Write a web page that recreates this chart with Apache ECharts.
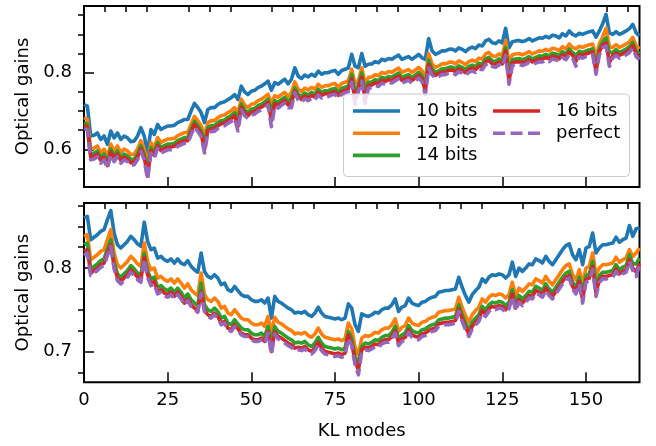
<!DOCTYPE html>
<html>
<head>
<meta charset="utf-8">
<script src="https://cdn.jsdelivr.net/npm/echarts/dist/echarts.min.js"></script>
<style>
html, body { margin: 0; padding: 0; background: #fff; }
#main { width: 656px; height: 446px; }
</style>
</head>
<body>
<div id="main"></div>
<script>
// KL mode index 0..166
var klModes = [];
for (var i = 0; i <= 166; i++) klModes.push(i);

// top panel
var top10 = [0.717,0.713,0.635,0.637,0.643,0.626,0.635,0.613,0.648,0.630,
	0.643,0.626,0.635,0.630,0.620,0.622,0.635,0.657,0.635,0.591,
	0.652,0.639,0.665,0.652,0.657,0.661,0.661,0.663,0.670,0.674,
	0.678,0.678,0.700,0.720,0.709,0.696,0.670,0.704,0.709,0.709,
	0.717,0.722,0.724,0.730,0.735,0.743,0.730,0.765,0.750,0.743,
	0.752,0.754,0.761,0.765,0.771,0.778,0.754,0.774,0.770,0.777,
	0.783,0.771,0.783,0.813,0.791,0.785,0.794,0.789,0.796,0.791,
	0.804,0.796,0.800,0.800,0.804,0.806,0.796,0.806,0.809,0.813,
	0.848,0.817,0.813,0.850,0.817,0.822,0.823,0.829,0.826,0.835,
	0.832,0.837,0.835,0.841,0.846,0.835,0.839,0.842,0.835,0.841,
	0.848,0.839,0.835,0.889,0.857,0.848,0.852,0.857,0.857,0.861,
	0.862,0.857,0.865,0.861,0.855,0.863,0.867,0.863,0.872,0.870,
	0.883,0.887,0.878,0.876,0.883,0.878,0.916,0.865,0.881,0.883,
	0.884,0.881,0.884,0.889,0.883,0.887,0.891,0.890,0.895,0.891,
	0.898,0.896,0.891,0.902,0.896,0.909,0.900,0.896,0.903,0.900,
	0.904,0.907,0.909,0.893,0.909,0.928,0.952,0.904,0.900,0.907,
	0.900,0.904,0.909,0.915,0.926,0.904,0.896];
var top12 = [0.683,0.679,0.601,0.603,0.609,0.592,0.601,0.579,0.614,0.596,
	0.609,0.592,0.601,0.596,0.586,0.588,0.601,0.623,0.601,0.560,
	0.618,0.605,0.631,0.618,0.623,0.627,0.627,0.629,0.636,0.640,
	0.644,0.644,0.666,0.686,0.675,0.662,0.636,0.670,0.675,0.675,
	0.683,0.688,0.690,0.696,0.701,0.709,0.696,0.731,0.716,0.709,
	0.718,0.720,0.727,0.731,0.737,0.744,0.720,0.740,0.736,0.743,
	0.749,0.737,0.749,0.776,0.757,0.751,0.760,0.755,0.762,0.757,
	0.770,0.762,0.766,0.766,0.770,0.772,0.762,0.772,0.775,0.779,
	0.809,0.770,0.779,0.813,0.772,0.788,0.789,0.795,0.792,0.801,
	0.798,0.803,0.801,0.807,0.812,0.801,0.805,0.808,0.801,0.807,
	0.814,0.805,0.785,0.850,0.823,0.814,0.818,0.823,0.823,0.827,
	0.828,0.823,0.831,0.827,0.821,0.829,0.833,0.829,0.838,0.836,
	0.849,0.853,0.844,0.842,0.849,0.844,0.884,0.826,0.847,0.849,
	0.850,0.847,0.850,0.855,0.849,0.853,0.857,0.856,0.861,0.857,
	0.864,0.862,0.857,0.868,0.862,0.875,0.866,0.862,0.869,0.866,
	0.870,0.873,0.875,0.839,0.875,0.894,0.916,0.868,0.866,0.873,
	0.866,0.870,0.875,0.881,0.892,0.870,0.862];
var top14 = [0.670,0.666,0.588,0.590,0.596,0.579,0.588,0.566,0.601,0.583,
	0.596,0.579,0.588,0.583,0.573,0.575,0.588,0.610,0.588,0.543,
	0.605,0.592,0.618,0.605,0.610,0.614,0.614,0.616,0.623,0.627,
	0.631,0.631,0.653,0.673,0.662,0.649,0.617,0.657,0.662,0.662,
	0.670,0.675,0.677,0.683,0.688,0.696,0.680,0.718,0.703,0.696,
	0.705,0.707,0.714,0.718,0.724,0.731,0.700,0.727,0.723,0.730,
	0.736,0.724,0.734,0.760,0.744,0.738,0.747,0.742,0.749,0.744,
	0.757,0.749,0.753,0.753,0.757,0.759,0.749,0.759,0.762,0.766,
	0.796,0.750,0.766,0.800,0.752,0.775,0.776,0.782,0.779,0.788,
	0.785,0.790,0.788,0.794,0.799,0.788,0.792,0.795,0.788,0.794,
	0.801,0.792,0.765,0.833,0.810,0.801,0.805,0.810,0.810,0.814,
	0.815,0.810,0.818,0.814,0.808,0.816,0.820,0.816,0.825,0.823,
	0.836,0.840,0.831,0.829,0.836,0.831,0.866,0.804,0.834,0.836,
	0.837,0.834,0.837,0.842,0.836,0.840,0.844,0.843,0.848,0.844,
	0.851,0.849,0.844,0.855,0.849,0.862,0.853,0.845,0.856,0.853,
	0.857,0.860,0.862,0.817,0.862,0.881,0.891,0.852,0.853,0.860,
	0.853,0.857,0.862,0.868,0.879,0.857,0.849];
var top16 = [0.663,0.658,0.580,0.582,0.588,0.571,0.580,0.558,0.593,0.575,
	0.588,0.571,0.580,0.575,0.565,0.567,0.580,0.602,0.580,0.530,
	0.597,0.584,0.610,0.597,0.602,0.606,0.606,0.608,0.615,0.619,
	0.623,0.623,0.645,0.665,0.654,0.641,0.600,0.649,0.654,0.654,
	0.662,0.667,0.669,0.675,0.680,0.688,0.660,0.710,0.695,0.688,
	0.697,0.699,0.706,0.710,0.716,0.723,0.675,0.719,0.715,0.722,
	0.728,0.716,0.722,0.752,0.736,0.730,0.739,0.734,0.741,0.736,
	0.749,0.741,0.745,0.745,0.749,0.751,0.741,0.751,0.754,0.758,
	0.785,0.728,0.758,0.788,0.730,0.767,0.768,0.774,0.771,0.780,
	0.777,0.782,0.780,0.786,0.791,0.780,0.784,0.787,0.780,0.786,
	0.793,0.784,0.752,0.822,0.802,0.793,0.797,0.802,0.802,0.806,
	0.807,0.802,0.810,0.806,0.800,0.808,0.812,0.808,0.817,0.815,
	0.828,0.832,0.823,0.821,0.828,0.823,0.857,0.778,0.826,0.828,
	0.829,0.826,0.829,0.834,0.828,0.832,0.836,0.835,0.840,0.836,
	0.843,0.841,0.836,0.847,0.841,0.854,0.845,0.830,0.848,0.845,
	0.849,0.852,0.854,0.804,0.854,0.873,0.878,0.826,0.845,0.852,
	0.845,0.849,0.854,0.860,0.871,0.849,0.841];
var topPerfect = [0.655,0.651,0.573,0.575,0.581,0.564,0.573,0.551,0.586,0.568,
	0.581,0.564,0.573,0.568,0.558,0.560,0.573,0.595,0.573,0.522,
	0.590,0.577,0.603,0.590,0.595,0.599,0.599,0.601,0.608,0.612,
	0.616,0.616,0.638,0.658,0.647,0.634,0.591,0.642,0.647,0.647,
	0.655,0.660,0.662,0.668,0.673,0.681,0.648,0.703,0.688,0.681,
	0.690,0.692,0.699,0.703,0.709,0.716,0.659,0.712,0.708,0.715,
	0.721,0.709,0.709,0.748,0.729,0.723,0.732,0.727,0.734,0.729,
	0.742,0.734,0.738,0.738,0.742,0.744,0.734,0.744,0.747,0.751,
	0.775,0.718,0.751,0.778,0.720,0.760,0.761,0.767,0.764,0.773,
	0.770,0.775,0.773,0.779,0.784,0.773,0.777,0.780,0.773,0.779,
	0.786,0.777,0.743,0.812,0.795,0.786,0.790,0.795,0.795,0.799,
	0.800,0.795,0.803,0.799,0.793,0.801,0.805,0.801,0.810,0.808,
	0.821,0.825,0.816,0.814,0.821,0.816,0.845,0.770,0.819,0.821,
	0.822,0.819,0.822,0.827,0.821,0.825,0.829,0.828,0.833,0.829,
	0.836,0.834,0.829,0.840,0.834,0.847,0.838,0.817,0.841,0.838,
	0.842,0.845,0.847,0.796,0.847,0.866,0.870,0.817,0.838,0.845,
	0.838,0.842,0.847,0.853,0.864,0.842,0.834];

// bottom panel
var bot10 = [0.860,0.862,0.834,0.837,0.840,0.844,0.846,0.858,0.869,0.842,
	0.828,0.824,0.828,0.832,0.838,0.834,0.829,0.826,0.855,0.832,
	0.822,0.824,0.812,0.814,0.810,0.808,0.811,0.806,0.811,0.806,
	0.804,0.809,0.802,0.798,0.795,0.818,0.796,0.790,0.788,0.792,
	0.788,0.780,0.782,0.774,0.772,0.778,0.773,0.768,0.766,0.766,
	0.762,0.760,0.760,0.762,0.758,0.764,0.740,0.766,0.760,0.758,
	0.755,0.752,0.750,0.746,0.747,0.746,0.748,0.744,0.742,0.746,
	0.753,0.746,0.742,0.741,0.740,0.739,0.740,0.738,0.740,0.757,
	0.752,0.732,0.724,0.745,0.743,0.742,0.744,0.747,0.746,0.750,
	0.752,0.752,0.756,0.763,0.748,0.753,0.755,0.764,0.758,0.756,
	0.755,0.759,0.760,0.763,0.765,0.766,0.771,0.772,0.773,0.773,
	0.774,0.775,0.789,0.777,0.767,0.759,0.768,0.773,0.777,0.787,
	0.783,0.789,0.792,0.791,0.793,0.792,0.788,0.792,0.807,0.790,
	0.800,0.796,0.800,0.805,0.804,0.811,0.809,0.806,0.814,0.808,
	0.804,0.810,0.816,0.822,0.827,0.829,0.816,0.810,0.822,0.804,
	0.824,0.826,0.842,0.818,0.824,0.828,0.828,0.829,0.830,0.837,
	0.831,0.834,0.836,0.851,0.838,0.847,0.848];
var bot12 = [0.838,0.840,0.810,0.813,0.816,0.820,0.822,0.834,0.846,0.818,
	0.804,0.800,0.804,0.808,0.814,0.810,0.805,0.802,0.830,0.808,
	0.798,0.800,0.788,0.790,0.786,0.784,0.787,0.782,0.787,0.782,
	0.776,0.781,0.774,0.770,0.767,0.794,0.768,0.762,0.760,0.764,
	0.760,0.752,0.754,0.746,0.744,0.750,0.745,0.740,0.738,0.738,
	0.734,0.732,0.732,0.734,0.730,0.742,0.722,0.741,0.735,0.733,
	0.730,0.727,0.725,0.721,0.722,0.721,0.723,0.719,0.717,0.721,
	0.728,0.721,0.717,0.716,0.715,0.714,0.715,0.713,0.715,0.734,
	0.727,0.705,0.696,0.716,0.719,0.718,0.720,0.723,0.722,0.726,
	0.728,0.728,0.732,0.739,0.724,0.729,0.731,0.740,0.734,0.732,
	0.731,0.735,0.736,0.739,0.741,0.742,0.747,0.748,0.749,0.749,
	0.750,0.751,0.765,0.753,0.743,0.735,0.744,0.749,0.753,0.763,
	0.759,0.765,0.768,0.767,0.769,0.768,0.764,0.768,0.783,0.766,
	0.776,0.772,0.776,0.781,0.780,0.787,0.785,0.782,0.790,0.784,
	0.780,0.786,0.792,0.798,0.803,0.805,0.792,0.786,0.798,0.780,
	0.800,0.802,0.818,0.792,0.800,0.804,0.804,0.805,0.806,0.813,
	0.807,0.810,0.812,0.822,0.814,0.818,0.824];
var bot14 = [0.828,0.830,0.799,0.802,0.805,0.809,0.811,0.823,0.834,0.807,
	0.793,0.789,0.793,0.797,0.803,0.799,0.794,0.791,0.818,0.797,
	0.787,0.789,0.777,0.779,0.775,0.773,0.776,0.771,0.776,0.771,
	0.764,0.769,0.762,0.758,0.755,0.782,0.756,0.750,0.748,0.752,
	0.748,0.740,0.742,0.734,0.732,0.738,0.733,0.728,0.726,0.726,
	0.722,0.720,0.720,0.722,0.718,0.730,0.710,0.730,0.724,0.722,
	0.719,0.716,0.714,0.710,0.711,0.710,0.712,0.708,0.706,0.710,
	0.717,0.710,0.706,0.705,0.704,0.703,0.704,0.702,0.704,0.724,
	0.716,0.694,0.685,0.706,0.710,0.709,0.711,0.714,0.713,0.717,
	0.719,0.719,0.723,0.730,0.715,0.720,0.722,0.731,0.725,0.723,
	0.722,0.726,0.727,0.730,0.732,0.733,0.738,0.739,0.740,0.740,
	0.741,0.742,0.756,0.744,0.734,0.726,0.735,0.740,0.744,0.754,
	0.750,0.756,0.759,0.758,0.760,0.759,0.755,0.759,0.774,0.757,
	0.767,0.763,0.767,0.772,0.771,0.778,0.776,0.773,0.781,0.775,
	0.771,0.777,0.783,0.789,0.794,0.796,0.783,0.777,0.789,0.770,
	0.791,0.793,0.808,0.780,0.791,0.795,0.795,0.796,0.797,0.804,
	0.798,0.801,0.803,0.816,0.805,0.805,0.812];
var bot16 = [0.820,0.822,0.794,0.797,0.800,0.804,0.806,0.818,0.828,0.802,
	0.788,0.784,0.788,0.792,0.798,0.794,0.789,0.786,0.813,0.792,
	0.782,0.784,0.772,0.774,0.770,0.768,0.771,0.766,0.771,0.766,
	0.758,0.763,0.756,0.752,0.749,0.772,0.750,0.744,0.742,0.746,
	0.742,0.734,0.736,0.728,0.726,0.732,0.727,0.722,0.720,0.720,
	0.716,0.714,0.714,0.716,0.712,0.724,0.700,0.724,0.718,0.716,
	0.713,0.710,0.708,0.704,0.705,0.704,0.706,0.702,0.700,0.704,
	0.711,0.704,0.700,0.699,0.698,0.697,0.698,0.696,0.698,0.720,
	0.710,0.688,0.678,0.702,0.705,0.704,0.706,0.709,0.708,0.712,
	0.714,0.714,0.718,0.725,0.710,0.715,0.717,0.726,0.720,0.718,
	0.717,0.721,0.722,0.725,0.727,0.728,0.733,0.734,0.735,0.735,
	0.736,0.737,0.751,0.739,0.729,0.721,0.730,0.735,0.739,0.749,
	0.745,0.751,0.754,0.753,0.755,0.754,0.750,0.754,0.769,0.752,
	0.762,0.758,0.762,0.767,0.766,0.773,0.771,0.768,0.776,0.770,
	0.766,0.772,0.778,0.784,0.789,0.791,0.778,0.772,0.784,0.762,
	0.786,0.788,0.802,0.770,0.786,0.790,0.790,0.791,0.792,0.799,
	0.793,0.796,0.798,0.810,0.800,0.795,0.806];
var botPerfect = [0.815,0.818,0.791,0.794,0.797,0.801,0.803,0.815,0.826,0.799,
	0.785,0.781,0.785,0.789,0.795,0.791,0.786,0.783,0.811,0.789,
	0.779,0.781,0.769,0.771,0.767,0.765,0.768,0.763,0.768,0.763,
	0.756,0.761,0.754,0.750,0.747,0.770,0.748,0.742,0.740,0.744,
	0.740,0.732,0.734,0.726,0.724,0.730,0.725,0.720,0.718,0.718,
	0.714,0.712,0.712,0.714,0.710,0.722,0.697,0.721,0.715,0.713,
	0.710,0.707,0.705,0.701,0.702,0.701,0.703,0.699,0.697,0.701,
	0.708,0.701,0.697,0.696,0.695,0.694,0.695,0.693,0.695,0.716,
	0.707,0.684,0.672,0.700,0.702,0.701,0.703,0.706,0.705,0.709,
	0.711,0.711,0.715,0.722,0.707,0.712,0.714,0.723,0.717,0.715,
	0.714,0.718,0.719,0.722,0.724,0.725,0.730,0.731,0.732,0.732,
	0.733,0.734,0.748,0.736,0.726,0.718,0.727,0.732,0.736,0.746,
	0.742,0.748,0.751,0.750,0.752,0.751,0.747,0.751,0.766,0.749,
	0.759,0.755,0.759,0.764,0.763,0.770,0.768,0.765,0.773,0.767,
	0.763,0.769,0.775,0.781,0.786,0.788,0.775,0.769,0.781,0.758,
	0.783,0.785,0.798,0.766,0.783,0.787,0.787,0.788,0.789,0.796,
	0.790,0.793,0.795,0.808,0.797,0.790,0.804];

// ticks
var xMajor = [0, 25, 50, 75, 100, 125, 150];
var xMinor = [6.25, 12.5, 18.75, 31.25, 37.5, 43.75, 56.25, 62.5, 68.75, 81.25, 87.5, 93.75,
	106.25, 112.5, 118.75, 131.25, 137.5, 143.75, 156.25, 162.5];
var topYMajor = [0.6, 0.8];
var topYMinor = [0.55, 0.65, 0.7, 0.75, 0.85, 0.9, 0.95];
var botYMajor = [0.7, 0.8];
var botYMinor = [0.675, 0.725, 0.75, 0.775, 0.825, 0.85, 0.875];

var names = ['10 bits', '12 bits', '14 bits', '16 bits', 'perfect'];
var colors = ['#1f77b4', '#ff7f0e', '#2ca02c', '#d62728', '#9467bd'];
var FONT = 'DejaVu Sans';
// legend handles: solid bar and dashed bar
var solidIcon = 'path://M0,0H47V3H0Z';
var dashIcon = 'path://M0,0H12V3H0Z M17.5,0H29.5V3H17.5Z M35,0H47V3H35Z';

window.onload = function(){
	var chart = echarts.init(document.getElementById('main'), null, {renderer: 'canvas'});

	function xAx(grid, major, labels){
		return {
			type: 'value', gridIndex: grid, min: 0, max: 166,
			axisLine: {show: false},
			axisTick: {show: true, inside: true, length: major ? 10 : 6,
				lineStyle: {color: '#000', width: 1.5},
				customValues: major ? xMajor : xMinor},
			axisLabel: {show: major && labels, customValues: xMajor, margin: 9,
				fontFamily: FONT, fontSize: 18, color: '#000'},
			splitLine: {show: false},
			name: (major && labels) ? 'KL modes' : '',
			nameLocation: 'middle', nameGap: 40,
			nameTextStyle: {fontFamily: FONT, fontSize: 18, color: '#000'}
		};
	}
	function yAx(grid, major, min, max, majVals, minVals){
		return {
			type: 'value', gridIndex: grid, min: min, max: max,
			axisLine: {show: false},
			axisTick: {show: true, inside: true, length: major ? 10 : 6,
				lineStyle: {color: '#000', width: 1.5},
				customValues: major ? majVals : minVals},
			axisLabel: {show: major, customValues: majVals, margin: 12,
				fontFamily: FONT, fontSize: 18, color: '#000',
				formatter: function(v){ return v.toFixed(1); }},
			splitLine: {show: false},
			name: major ? 'Optical gains' : '',
			nameLocation: 'middle', nameGap: 45,
			nameTextStyle: {fontFamily: FONT, fontSize: 18, color: '#000'}
		};
	}

	var panels = [
		[top10, top12, top14, top16, topPerfect],
		[bot10, bot12, bot14, bot16, botPerfect]
	];
	var series = [];
	panels.forEach(function(set, p){
		set.forEach(function(vals, k){
			series.push({
				name: names[k],
				type: 'line',
				xAxisIndex: p * 2,
				yAxisIndex: p * 2,
				data: vals.map(function(v, i){ return [klModes[i], v]; }),
				showSymbol: false,
				symbol: 'none',
				clip: true,
				z: 2,
				lineStyle: {color: colors[k], width: 3.6, join: 'round',
					type: k === 4 ? [11, 5] : 'solid'},
				itemStyle: {color: colors[k]}
			});
		});
	});

	var legendBase = {
		orient: 'vertical', padding: 0, itemWidth: 47, itemHeight: 3.6, itemGap: 4.2,
		symbolKeepAspect: false,
		z: 60, selectedMode: false,
		textStyle: {fontFamily: FONT, fontSize: 18, color: '#000', lineHeight: 18,
			padding: [0, 0, 0, 11]}
	};

	chart.setOption({
		animation: false,
		backgroundColor: '#fff',
		grid: [
			{left: 84, right: 16.5, top: 6, height: 181, show: true, borderColor: '#000', borderWidth: 2},
			{left: 84, right: 16.5, top: 203, height: 179.3, show: true, borderColor: '#000', borderWidth: 2}
		],
		xAxis: [xAx(0, true, false), xAx(0, false, false), xAx(1, true, true), xAx(1, false, true)],
		yAxis: [
			yAx(0, true, 0.502, 0.974, topYMajor, topYMinor),
			yAx(0, false, 0.502, 0.974, topYMajor, topYMinor),
			yAx(1, true, 0.663, 0.878, botYMajor, botYMinor),
			yAx(1, false, 0.663, 0.878, botYMajor, botYMinor)
		],
		legend: [
			Object.assign({}, legendBase, {left: 353, top: 102,
				data: names.slice(0, 3).map(function(n){ return {name: n, icon: solidIcon}; })}),
			Object.assign({}, legendBase, {left: 493, top: 102,
				data: [{name: names[3], icon: solidIcon}, {name: names[4], icon: dashIcon}]})
		],
		graphic: [{
			type: 'rect', left: 343, top: 93.5, z: 50,
			shape: {width: 286, height: 82.5, r: 4},
			style: {fill: 'rgba(255,255,255,0.8)', stroke: '#cccccc', lineWidth: 1}
		}],
		series: series
	});
};
</script>
</body>
</html>
